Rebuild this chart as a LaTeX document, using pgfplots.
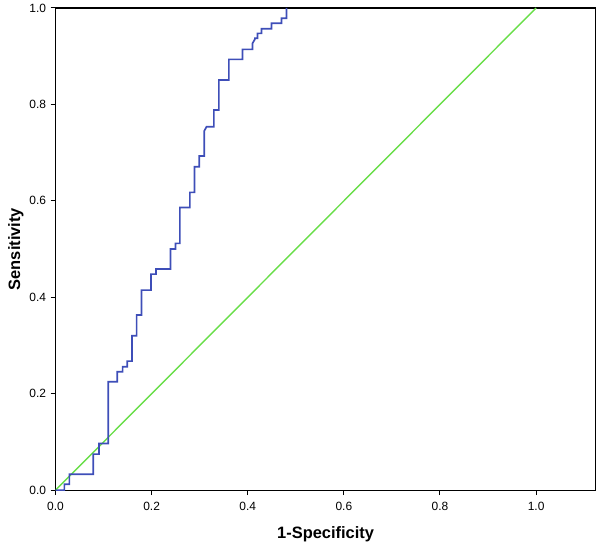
\documentclass[border=0pt]{standalone}
\usepackage{pgfplots}
\pgfplotsset{compat=1.18}
\usepackage{fontspec}
\setmainfont{Liberation Sans}
\definecolor{rocblue}{RGB}{62,78,184}
\definecolor{refgreen}{RGB}{104,222,72}
\begin{document}
\begin{tikzpicture}
\begin{axis}[
  scale only axis,
  width=540bp, height=482bp,
  xmin=0, xmax=1.124, ymin=0, ymax=1,
  xtick={0,0.2,...,1.0}, ytick={0,0.2,...,1.0},
  tick align=outside, tick pos=left,
  major tick length=5bp,
  tick style={black, line width=1pt},
  axis line style={black, line width=1.1pt},
  /pgf/number format/assume math mode=true,
  /pgf/number format/.cd, fixed, fixed zerofill, precision=1,
  /pgfplots/.cd,
  ticklabel style={font=\fontsize{12}{14}\selectfont},
  xticklabel style={yshift=-3bp},
  yticklabel style={xshift=-1bp},
  xlabel={\textbf{1-Specificity}},
  ylabel={\textbf{Sensitivity}},
  label style={font=\fontsize{16.5}{18}\selectfont},
  xlabel style={yshift=-10bp},
  ylabel style={yshift=-1bp},
]
\addplot[refgreen, line width=1.4pt] coordinates {(0,0) (1,1)};
\addplot[rocblue, line width=1.7pt] coordinates {
(0,0) (0.0184,0) (0.0184,0.0124) (0.0288,0.0124) (0.0288,0.0332)
(0.0787,0.0332) (0.0787,0.0747) (0.0904,0.0747) (0.0904,0.0968)
(0.1098,0.0968) (0.1098,0.2248) (0.1286,0.2248) (0.1286,0.2455)
(0.1396,0.2455) (0.1396,0.2559) (0.1493,0.2559) (0.1493,0.2676)
(0.159,0.2676) (0.159,0.3202) (0.1688,0.3202) (0.1688,0.3631)
(0.1791,0.3631) (0.1791,0.4149) (0.1985,0.4149) (0.1985,0.4481)
(0.2089,0.4481) (0.2089,0.4585) (0.2394,0.4585) (0.2394,0.5)
(0.2498,0.5) (0.2498,0.5118) (0.2588,0.5118) (0.2588,0.5864)
(0.2796,0.5864) (0.2796,0.6176) (0.2890,0.6176) (0.2890,0.6708)
(0.299,0.6708) (0.299,0.6929) (0.3094,0.6929) (0.3094,0.7448)
(0.3143,0.7538) (0.3295,0.7538) (0.3295,0.7884) (0.3399,0.7884)
(0.3399,0.8506) (0.3607,0.8506) (0.3607,0.8935) (0.3891,0.8935)
(0.3891,0.9142) (0.4099,0.9142) (0.4099,0.9267) (0.4148,0.935)
(0.4148,0.9374) (0.4203,0.9374) (0.4203,0.9474) (0.4286,0.9474)
(0.4286,0.9571) (0.4494,0.9571) (0.4494,0.9682) (0.4702,0.9682)
(0.4702,0.9786) (0.4806,0.9786) (0.4806,1)
};
\end{axis}
\pgfresetboundingbox
\path ([shift={(-55.5bp,-64bp)}]current axis.south west) rectangle ([shift={(6.3bp,8bp)}]current axis.north east);
\end{tikzpicture}
\end{document}
